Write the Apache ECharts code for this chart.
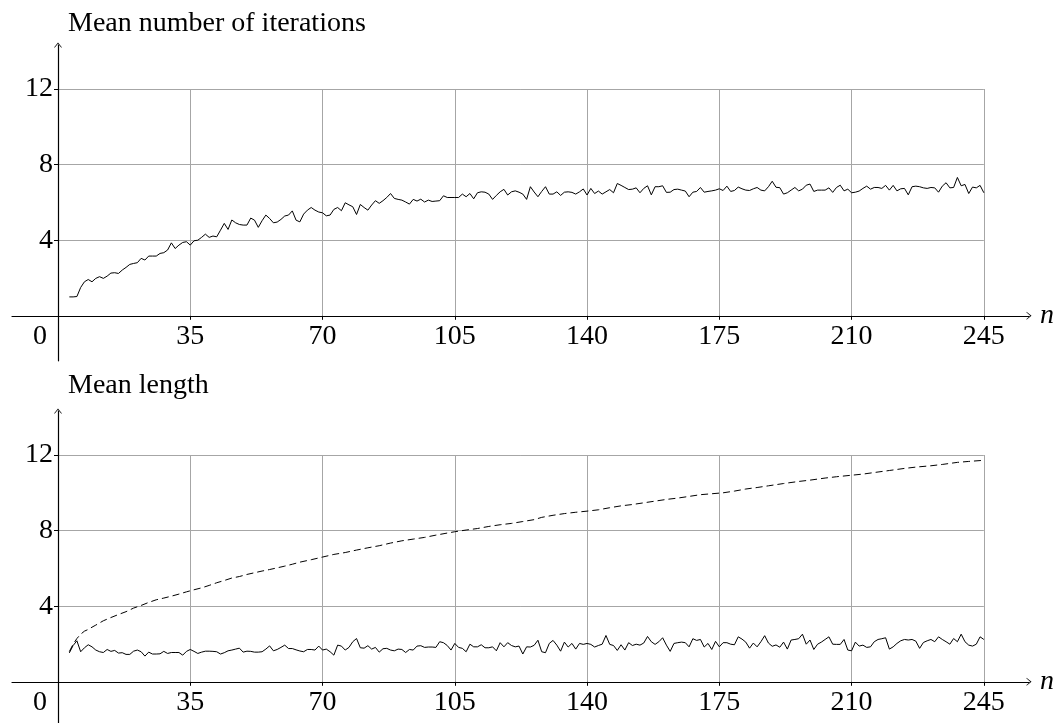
<!DOCTYPE html>
<html>
<head>
<meta charset="utf-8">
<script src="https://cdn.jsdelivr.net/npm/echarts@6/dist/echarts.min.js"></script>
<style>
  html, body { margin: 0; padding: 0; background: #fff; }
  #chart { width: 1062px; height: 723px; }
</style>
</head>
<body>
<div id="chart"></div>
<script>
// n runs from 3 to 245 for both solid curves
const nStart = 3;
const nEnd = 245;

const meanIterations = [
  1.0, 1.0, 1.02, 1.5, 1.8, 1.92, 1.8, 1.98, 2.07, 1.98, 2.1, 2.26, 2.28, 2.24, 2.42, 2.56, 2.72, 2.77, 2.81, 3.04,
  2.95, 3.16, 3.16, 3.16, 3.3, 3.34, 3.48, 3.86, 3.56, 3.74, 3.88, 3.92, 3.74, 3.97, 4.0, 4.15, 4.32, 4.15, 4.22, 4.18,
  4.53, 4.89, 4.57, 5.07, 4.92, 4.83, 4.8, 4.8, 5.17, 5.06, 4.68, 5.03, 5.33, 5.15, 4.92, 4.96, 5.1, 5.28, 5.33, 5.55,
  5.06, 4.97, 5.38, 5.59, 5.73, 5.59, 5.49, 5.45, 5.29, 5.33, 5.63, 5.73, 5.56, 5.98, 5.87, 5.77, 5.36, 5.89, 5.73, 5.59,
  5.86, 6.09, 5.95, 6.09, 6.26, 6.47, 6.21, 6.16, 6.12, 6.02, 5.91, 6.16, 6.07, 6.17, 6.02, 6.12, 6.05, 6.07, 6.09, 6.35,
  6.26, 6.26, 6.26, 6.26, 6.44, 6.3, 6.47, 6.19, 6.51, 6.56, 6.54, 6.44, 6.16, 6.37, 6.56, 6.69, 6.39, 6.56, 6.61, 6.54,
  6.44, 6.16, 6.83, 6.55, 6.3, 6.58, 6.83, 6.44, 6.44, 6.56, 6.37, 6.54, 6.56, 6.53, 6.44, 6.56, 6.71, 6.39, 6.74, 6.47,
  6.6, 6.44, 6.56, 6.68, 6.51, 7.0, 6.9, 6.79, 6.68, 6.7, 6.77, 6.51, 6.74, 6.88, 6.4, 6.83, 6.83, 6.88, 6.53, 6.54,
  6.68, 6.7, 6.65, 6.6, 6.3, 6.54, 6.58, 6.79, 6.54, 6.58, 6.61, 6.65, 6.72, 6.63, 6.86, 6.58, 6.63, 6.81, 6.72, 6.65,
  6.63, 6.72, 6.79, 6.65, 6.61, 6.83, 7.12, 6.8, 6.78, 6.44, 6.51, 6.65, 6.79, 6.61, 6.7, 6.91, 6.97, 6.58, 6.65, 6.65,
  6.65, 6.77, 6.53, 6.79, 6.91, 6.61, 6.7, 6.51, 6.54, 6.6, 6.74, 6.86, 6.7, 6.79, 6.79, 6.74, 6.9, 6.65, 6.9, 6.61,
  6.72, 6.74, 6.4, 6.83, 6.86, 6.83, 6.77, 6.74, 6.79, 6.77, 6.54, 6.86, 7.04, 6.77, 6.79, 7.32, 6.88, 6.95, 6.47, 6.81,
  6.77, 6.9, 6.51
];

const meanLength = [
  1.53, 1.92, 2.17, 1.59, 1.8, 1.96, 1.85, 1.68, 1.59, 1.55, 1.71, 1.61, 1.66, 1.52, 1.54, 1.45, 1.45, 1.62, 1.68, 1.59,
  1.36, 1.57, 1.47, 1.47, 1.48, 1.61, 1.5, 1.55, 1.55, 1.55, 1.41, 1.61, 1.71, 1.61, 1.5, 1.57, 1.62, 1.62, 1.61, 1.59,
  1.47, 1.54, 1.64, 1.68, 1.73, 1.78, 1.57, 1.62, 1.61, 1.57, 1.57, 1.59, 1.73, 1.9, 1.64, 1.71, 1.82, 1.94, 1.76, 1.76,
  1.69, 1.63, 1.59, 1.71, 1.71, 1.68, 1.89, 1.68, 1.73, 1.59, 1.41, 1.94, 1.89, 1.68, 1.82, 2.12, 2.29, 1.8, 1.78, 1.91,
  1.73, 1.82, 1.57, 1.75, 1.77, 1.68, 1.64, 1.73, 1.71, 1.55, 1.71, 1.68, 1.89, 1.91, 1.82, 1.84, 1.84, 1.82, 2.12, 2.07,
  1.92, 1.68, 2.03, 1.82, 1.77, 1.59, 1.99, 1.85, 1.85, 1.96, 1.8, 1.8, 1.85, 1.64, 2.07, 1.85, 2.07, 1.92, 1.85, 1.89,
  1.47, 1.85, 1.84, 1.93, 2.2, 1.59, 1.54, 2.03, 2.19, 1.94, 1.62, 2.1, 1.84, 2.03, 1.73, 2.03, 1.98, 2.03, 1.98, 1.84,
  1.92, 1.99, 2.45, 1.98, 1.92, 1.66, 1.96, 1.68, 2.07, 1.92, 1.99, 1.94, 2.05, 2.4, 2.12, 1.98, 2.12, 2.33, 1.94, 1.61,
  2.03, 2.07, 2.1, 2.07, 1.85, 2.28, 2.19, 2.24, 1.84, 2.03, 1.71, 2.14, 1.85, 2.07, 2.07, 1.99, 1.96, 2.38, 2.26, 2.1,
  1.78, 2.05, 1.85, 2.12, 2.44, 2.05, 1.88, 1.95, 1.83, 2.1, 1.73, 2.21, 2.24, 2.28, 2.52, 1.99, 2.21, 1.71, 1.99, 2.1,
  2.24, 2.38, 1.99, 1.98, 1.98, 2.24, 1.68, 1.64, 2.1, 1.89, 1.94, 1.82, 1.85, 2.12, 2.24, 2.28, 2.33, 1.73, 1.85, 2.03,
  2.17, 2.24, 2.21, 2.24, 2.15, 1.77, 2.08, 2.17, 2.24, 2.12, 2.38, 2.24, 2.12, 1.99, 2.29, 2.12, 2.52, 2.12, 1.94, 1.89,
  1.99, 2.38, 2.24
];

// dashed reference curve, read at these n
const dashedN = [
  3, 4, 5, 6, 7, 8, 9, 10, 12, 14, 16, 18, 20, 22, 24, 26, 28, 30, 32, 34, 36, 38, 40, 42, 44, 46, 48, 50, 52, 54,
  56, 58, 60, 62, 64, 67, 70, 73, 76, 79, 82, 85, 88, 91, 94, 97, 100, 103, 105, 108, 111, 114, 117, 120, 123, 126,
  128, 131, 134, 137, 140, 143, 146, 149, 152, 155, 158, 161, 164, 167, 170, 173, 176, 179, 182, 185, 188, 192, 196,
  199, 203, 206, 210, 213, 217, 220, 224, 227, 231, 234, 238, 241, 245
];
const dashedValues = [
  1.6, 1.99, 2.29, 2.52, 2.68, 2.77, 2.89, 3.0, 3.23, 3.4, 3.56, 3.71, 3.9, 4.04, 4.2, 4.34, 4.43, 4.53, 4.64, 4.76,
  4.87, 4.97, 5.1, 5.24, 5.36, 5.49, 5.57, 5.68, 5.77, 5.86, 5.94, 6.03, 6.12, 6.22, 6.33, 6.46, 6.6, 6.74, 6.84, 6.97,
  7.09, 7.2, 7.34, 7.46, 7.55, 7.64, 7.76, 7.87, 7.94, 8.03, 8.11, 8.22, 8.31, 8.38, 8.48, 8.58, 8.7, 8.81, 8.9, 8.97,
  9.03, 9.1, 9.21, 9.31, 9.38, 9.47, 9.56, 9.65, 9.72, 9.81, 9.9, 9.95, 10.0, 10.09, 10.2, 10.28, 10.37, 10.49, 10.6,
  10.67, 10.78, 10.85, 10.93, 10.99, 11.1, 11.18, 11.29, 11.36, 11.43, 11.5, 11.61, 11.66, 11.72
];

const xTicks = { min: 0, max: 245, interval: 35 };
const yTicks = { min: 0, max: 12, interval: 4 };
const titles = ["Mean number of iterations", "Mean length"];

// ---- layout (pixels) ----
const PX = 3.779;          // px per unit of n
const PY = 18.9;           // px per unit of y
const LEFT = 58;
const PANEL_TOPS = [89, 455];
const TITLE_Y = [24, 386];
const AXIS_LEFT = 12;
const AXIS_RIGHT = 1029;
const OVER_TOP = 44;
const UNDER = 45;
const FONT = '"Liberation Serif", "Times New Roman", serif';
const FS = 28;
const GRID_COLOR = "#a6a6a6";
const ARROW = "path://M8 0L16 10L14.4 10L8 2.6L1.6 10L0 10Z";

const chart = echarts.init(document.getElementById("chart"));

const nValues = [];
for (let n = nStart; n <= nEnd; n++) nValues.push(n);
const zip = (xs, ys) => xs.map((x, i) => [x, ys[i]]);

const W = (xTicks.max - xTicks.min) * PX;
const H = (yTicks.max - yTicks.min) * PY;

const grids = [], xAxes = [], yAxes = [];
PANEL_TOPS.forEach((top, p) => {
  const bottomPx = Math.min(top + H + UNDER, 723);
  // outer grid: only carries the arrowed axis lines
  grids.push({
    left: AXIS_LEFT, top: top - OVER_TOP,
    width: AXIS_RIGHT - AXIS_LEFT, height: bottomPx - (top - OVER_TOP),
    outerBoundsMode: "none",
  });
  // inner grid: carries grid lines, ticks, labels and data
  grids.push({ left: LEFT, top: top, width: W, height: H, outerBoundsMode: "none" });

  const axisLineStyle = { color: "#000", width: 1.2 };
  xAxes.push({
    type: "value", gridIndex: 2 * p,
    min: (AXIS_LEFT - LEFT) / PX, max: (AXIS_RIGHT - LEFT) / PX,
    axisLine: { show: true, onZero: true, symbol: ["none", ARROW], symbolSize: [8, 5], lineStyle: axisLineStyle },
    axisTick: { show: false }, axisLabel: { show: false }, splitLine: { show: false },
    name: "n", nameLocation: "end", nameGap: 11,
    nameTextStyle: { fontFamily: FONT, fontSize: FS, fontStyle: "italic", color: "#000", verticalAlign: "middle" },
  });
  yAxes.push({
    type: "value", gridIndex: 2 * p,
    min: -(bottomPx - (top + H)) / PY, max: (H + OVER_TOP) / PY,
    axisLine: { show: true, onZero: true, symbol: ["none", ARROW], symbolSize: [8, 5], lineStyle: axisLineStyle },
    axisTick: { show: false }, axisLabel: { show: false }, splitLine: { show: false },
  });

  xAxes.push({
    type: "value", gridIndex: 2 * p + 1,
    min: xTicks.min, max: xTicks.max, interval: xTicks.interval,
    axisLine: { show: false },
    axisTick: { show: true, length: 4, lineStyle: { color: "#000", width: 1 } },
    splitLine: { show: true, lineStyle: { color: GRID_COLOR, width: 1 } },
    axisLabel: {
      margin: 7, fontFamily: FONT, fontSize: FS, color: "#000",
      formatter: (v) => (v === 0 ? "{o|0}" : String(v)),
      rich: { o: { fontFamily: FONT, fontSize: FS, color: "#000", padding: [0, 36, 0, 0] } },
    },
  });
  yAxes.push({
    type: "value", gridIndex: 2 * p + 1,
    min: yTicks.min, max: yTicks.max, interval: yTicks.interval,
    axisLine: { show: false },
    axisTick: { show: true, length: 4, lineStyle: { color: "#000", width: 1 } },
    splitLine: { show: true, lineStyle: { color: GRID_COLOR, width: 1 } },
    axisLabel: {
      margin: 5, fontFamily: FONT, fontSize: FS, color: "#000",
      formatter: (v) => (v === 0 ? "" : String(v)),
    },
  });
});

const lineSeries = (axisIndex, data, dashed) => ({
  type: "line",
  xAxisIndex: axisIndex, yAxisIndex: axisIndex,
  data: data,
  symbol: "none",
  smooth: false,
  lineStyle: { color: "#000", width: 1, type: dashed ? [7, 4] : "solid" },
  z: 5,
});

const option = {
  animation: false,
  backgroundColor: "#fff",
  grid: grids,
  xAxis: xAxes,
  yAxis: yAxes,
  series: [
    lineSeries(1, zip(nValues, meanIterations), false),
    lineSeries(3, zip(dashedN, dashedValues), true),
    lineSeries(3, zip(nValues, meanLength), false),
  ],
  graphic: titles.map((t, i) => ({
    type: "text",
    x: 68, y: TITLE_Y[i],
    style: { text: t, fontFamily: FONT, fontSize: FS, fill: "#000", verticalAlign: "middle" },
  })),
};

chart.setOption(option);
</script>
</body>
</html>
